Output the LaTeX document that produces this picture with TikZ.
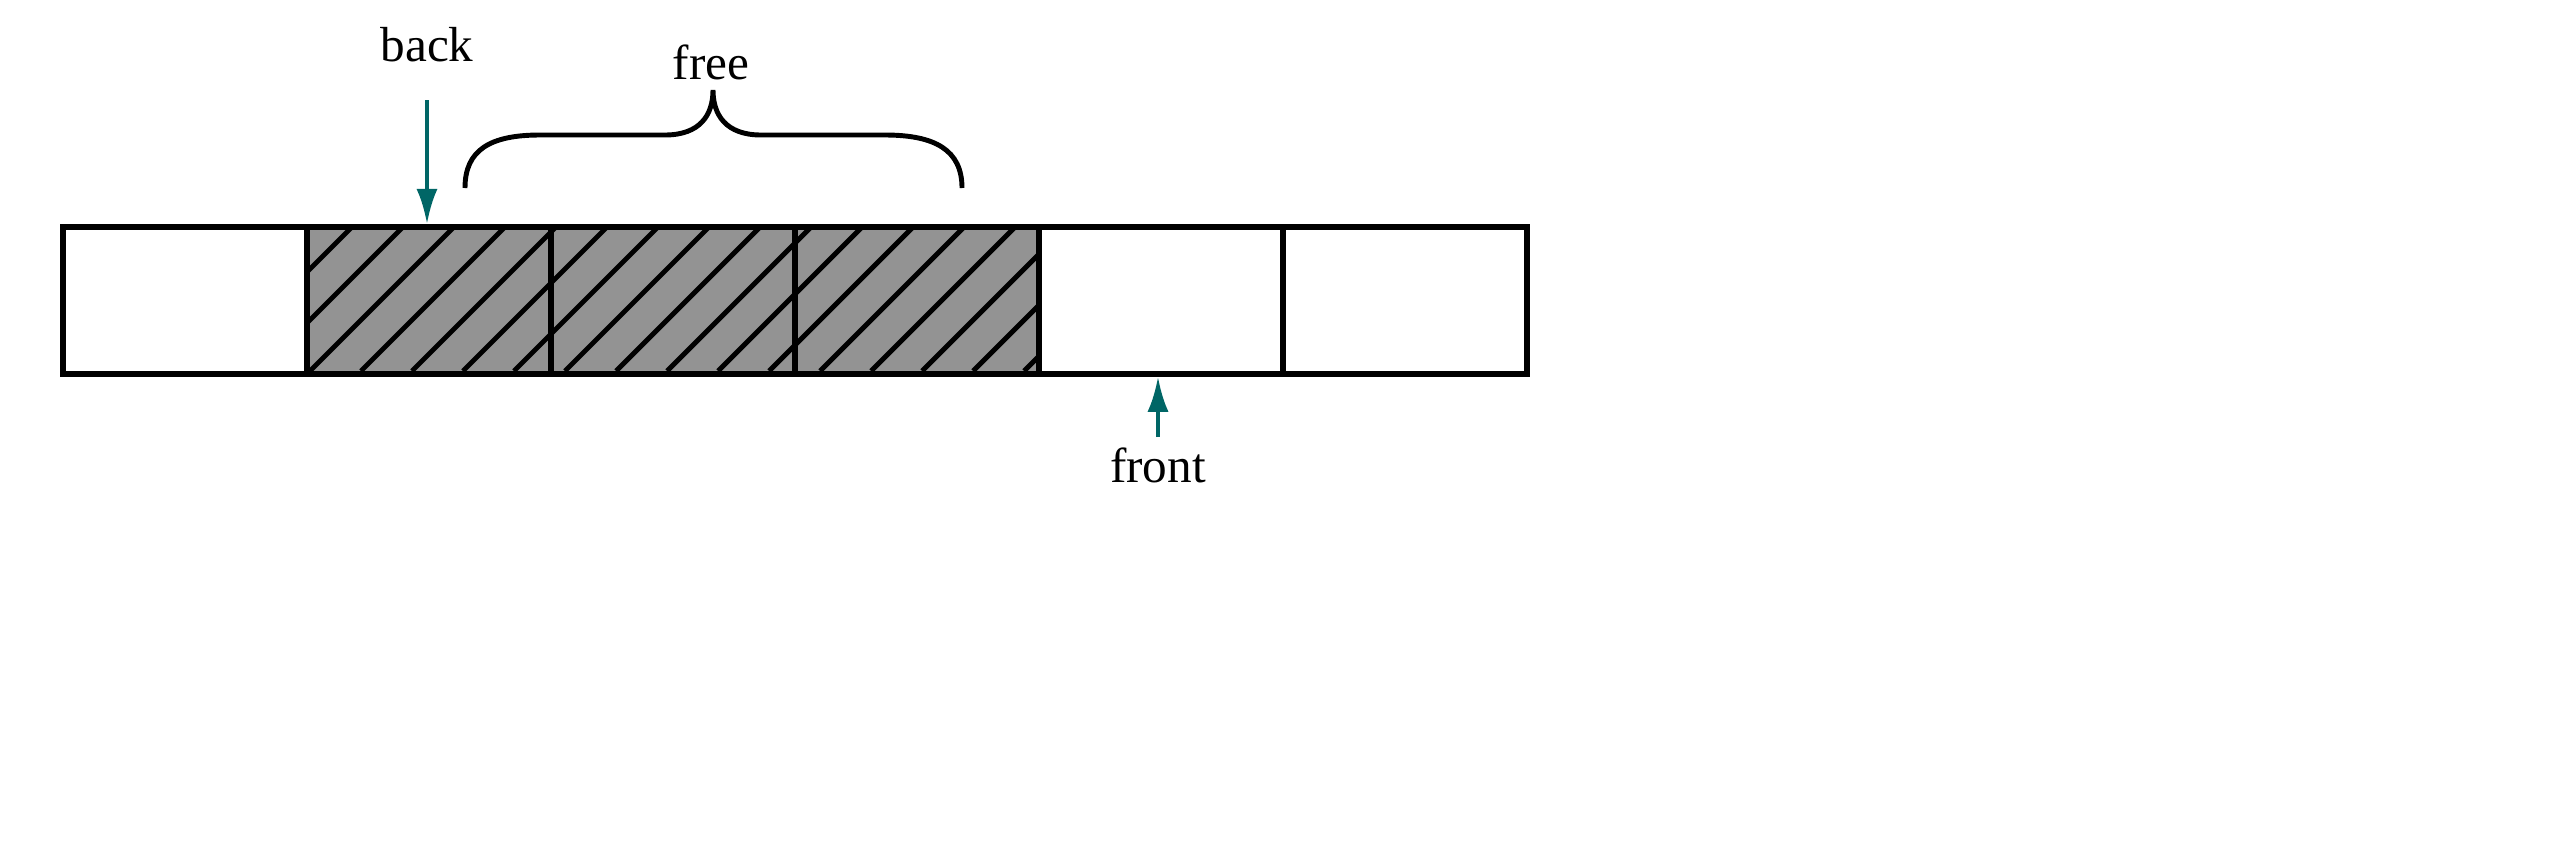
\documentclass[tikz,border=0pt]{standalone}
\usepackage{fontspec}
\setmainfont{Liberation Serif}
\usetikzlibrary{arrows.meta}
\begin{document}
\begin{tikzpicture}[x=0.01cm,y=-0.01cm,
  cell/.style={draw,line width=1.6pt,minimum width=2.44cm,minimum height=1.47cm,inner sep=0pt,anchor=north west},
  ptr/.style={draw=teal!80!black,line width=1.2pt,-{Latex[length=10pt,width=6pt]}},
  lbl/.style={font=\fontsize{14}{16}\selectfont}]
\useasboundingbox (0,0) rectangle (2573,845);
\fill[gray!85] (304,224) rectangle (1036,371);
\begin{scope}
\clip (304,224) rectangle (1036,371);
\foreach \i in {0,...,20} {
  \draw[line width=1.4pt] ({304+\i*51-147},371) -- ({304+\i*51},224);
}
\end{scope}
\foreach \n/\x in {a/60,b/304,c/548,d/792,e/1036,f/1280} {
  \node[cell] (\n) at (\x,224) {};
}
\node[lbl] (back) at (427,45) {back};
\node[lbl] (front) at (1158,465) {front};
\node[lbl] (free) at (711,62) {free};
\coordinate (bs) at (427,100);
\coordinate (fs) at (1158,437);
\draw[ptr] (bs) -- (b.north -| bs);
\draw[ptr] (fs) -- (e.south -| fs);
\draw[line width=1.4pt] (465,188) .. controls (465,150) and (490,135) .. (540,135)
  -- (665,135) .. controls (700,135) and (713,115) .. (713,90)
  .. controls (713,115) and (726,135) .. (761,135)
  -- (885,135) .. controls (935,135) and (962,150) .. (962,188);
\end{tikzpicture}
\end{document}
